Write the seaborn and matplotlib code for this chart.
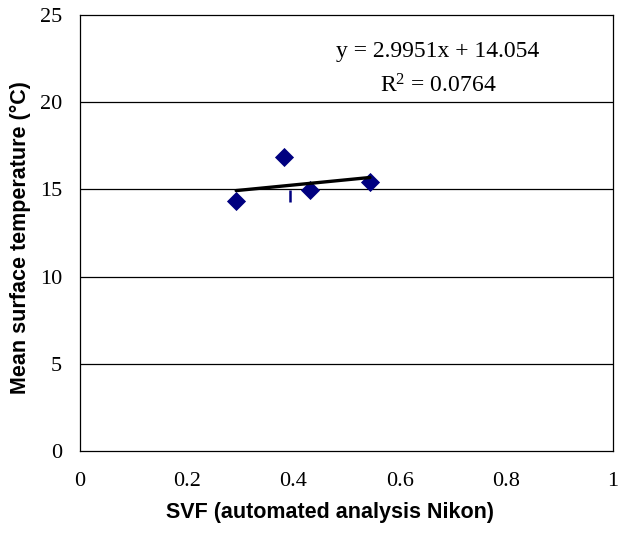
import numpy as np
import pandas as pd
import matplotlib
matplotlib.use("Agg")
import matplotlib.pyplot as plt
import seaborn as sns

# Measured sites: sky view factor vs mean surface temperature
svf = [0.293, 0.383, 0.432, 0.544]
temp = [14.33, 16.84, 14.97, 15.44]

# Single extra observation drawn with a dash marker
dash_svf = [0.394]
dash_temp = [14.63]

# Linear trend (Excel-style fit)
slope = 2.9951
intercept = 14.054
r_squared = 0.0764

x_ticks = [0, 0.2, 0.4, 0.6, 0.8, 1]
x_tick_labels = ["0", "0.2", "0.4", "0.6", "0.8", "1"]
y_ticks = [0, 5, 10, 15, 20, 25]

sns.set_theme(style="white")
plt.rcParams["font.family"] = ["Liberation Serif", "DejaVu Serif"]
plt.rcParams["mathtext.fontset"] = "custom"
plt.rcParams["mathtext.rm"] = "Liberation Serif"
plt.rcParams["mathtext.it"] = "Liberation Serif:italic"
plt.rcParams["text.color"] = "black"
plt.rcParams["axes.labelcolor"] = "black"

fig = plt.figure(figsize=(6.19, 5.33), dpi=100)
ax = fig.add_axes([80 / 619, 1 - 451 / 533, (613 - 80) / 619, (451 - 15) / 533])

df = pd.DataFrame({"svf": svf, "temp": temp})
trend = pd.DataFrame({"svf": [min(svf), max(svf)]})
trend["temp"] = slope * trend["svf"] + intercept

# horizontal gridlines
for yv in y_ticks[1:-1]:
    ax.axhline(yv, color="black", lw=0.9, zorder=0)

sns.scatterplot(data=df, x="svf", y="temp", marker="D", s=95, color="#000080",
                linewidth=0, ax=ax, zorder=3)
sns.lineplot(data=trend, x="svf", y="temp", color="black", lw=2.4, ax=ax, zorder=4)
ax.plot(dash_svf, dash_temp, linestyle="none", marker="|", markersize=9,
        markeredgewidth=1.8, color="#000080", zorder=3)

ax.set_xlim(0, 1)
ax.set_ylim(0, 25)
ax.set_xticks(x_ticks)
ax.set_xticklabels(x_tick_labels)
ax.set_yticks(y_ticks)
ax.tick_params(axis="both", direction="out", length=4, width=0.9, color="black",
               labelsize=16, labelcolor="black")
ax.tick_params(axis="x", pad=11)
ax.tick_params(axis="y", pad=9)
for sp in ax.spines.values():
    sp.set_color("black")
    sp.set_linewidth(0.9)

sans = ["Liberation Sans", "DejaVu Sans"]
ax.set_xlabel("SVF (automated analysis Nikon)", family=sans, fontsize=15.5,
              fontweight="bold", color="black")
ax.set_ylabel("Mean surface temperature (°C)", family=sans, fontsize=15.5,
              fontweight="bold", color="black")
ax.xaxis.set_label_coords(0.469, -0.117)
ax.yaxis.set_label_coords(-0.092, 0.49)

ax.text(0.671, 0.917, f"y = {slope:.4f}x + {intercept:.3f}", transform=ax.transAxes,
        ha="center", va="center", fontsize=17, color="black")
ax.text(0.672, 0.838, f"R$^2$ = {r_squared:.4f}", transform=ax.transAxes,
        ha="center", va="center", fontsize=17, color="black")

fig.savefig("out.png", dpi=100)
